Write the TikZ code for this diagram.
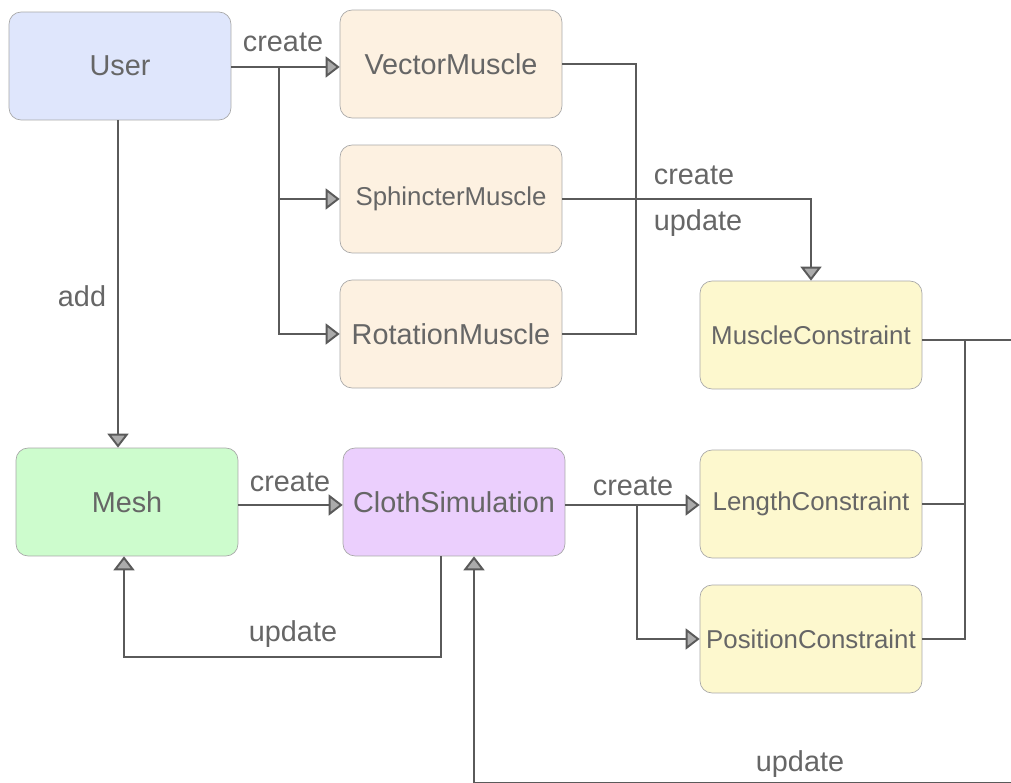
\documentclass[tikz,border=0pt]{standalone}
\usepackage{fontspec}
\setmainfont{Liberation Sans}
\usetikzlibrary{arrows.meta}

\definecolor{linegray}{HTML}{5A5A5A}
\definecolor{tipgray}{HTML}{ABABAB}
\definecolor{textgray}{HTML}{666666}
\definecolor{boxline}{HTML}{A8A8A8}
\definecolor{userfill}{HTML}{DFE6FC}
\definecolor{musclefill}{HTML}{FDF1E1}
\definecolor{meshfill}{HTML}{CDFCCD}
\definecolor{clothfill}{HTML}{EBCFFD}
\definecolor{constrfill}{HTML}{FDF8CE}

\begin{document}
\begin{tikzpicture}[x=0.02cm, y=-0.02cm,
  box/.style={draw=boxline, rounded corners=0.24cm, minimum width=4.44cm,
    minimum height=2.16cm, inner sep=0pt, text=textgray,
    font=\fontsize{16.4}{19}\selectfont},
  smallbox/.style={box, font=\fontsize{14.7}{17}\selectfont},
  link/.style={draw=linegray, line width=1.1pt},
  conn/.style={link, -{Triangle[fill=tipgray, length=0.28cm, width=0.42cm]}},
  lbl/.style={text=textgray, font=\fontsize{16.4}{19}\selectfont, inner sep=0pt}]
\useasboundingbox (0,0) rectangle (1011,783);

% boxes
\node[box, fill=userfill] (user) at (120,66) {User};
\node[box, fill=musclefill] (vector) at (451,64) {VectorMuscle};
\node[smallbox, fill=musclefill] (sphincter) at (451,199) {SphincterMuscle};
\node[box, fill=musclefill] (rotation) at (451,334) {RotationMuscle};
\node[smallbox, fill=constrfill] (mconstr) at (811,335) {MuscleConstraint};
\node[box, fill=meshfill] (mesh) at (127,502) {Mesh};
\node[box, fill=clothfill] (cloth) at (454,502) {ClothSimulation};
\node[smallbox, fill=constrfill] (lconstr) at (811,504) {LengthConstraint};
\node[smallbox, fill=constrfill] (pconstr) at (811,639) {PositionConstraint};

% junctions and off-page ends
\coordinate (j1) at (279,67);
\coordinate (j2) at (637,505);
\coordinate (j3) at (965,340);
\coordinate (redge) at (1011,340);
\coordinate (bedge) at (1011,783);
\coordinate (bturn) at (474,783);

% user creates muscles
\draw[conn] (user.east |- j1) -- (vector.west |- j1);
\draw[conn] (j1) |- (sphincter.west);
\draw[conn] (j1) |- (rotation.west);
\node[lbl] (lcreate1) at (283,42) {create};

% muscles create and update the muscle constraint
\draw[link] (vector.east) -- ++(74,0) |- (rotation.east);
\draw[conn] (sphincter.east) -| (mconstr.north);
\node[lbl] (lcreate2) at (694,175) {create};
\node[lbl] (lupdate1) at (698,223) {update};

% user adds the mesh
\draw[conn] ([xshift=-0.04cm]user.south) -- ([xshift=-0.04cm]user.south |- mesh.north);
\node[lbl] (ladd) at (82,296) {add};

% mesh and cloth simulation
\draw[conn] (mesh.east |- j2) -- (cloth.west |- j2);
\node[lbl] (lcreate3) at (290,482) {create};
\draw[conn] ([xshift=-0.26cm]cloth.south) -- ++(0,101) -| ([xshift=-0.06cm]mesh.south);
\node[lbl] (lupdate2) at (293,634) {update};

% cloth simulation creates constraints
\draw[conn] (cloth.east |- j2) -- (lconstr.west |- j2);
\draw[conn] (j2) |- (pconstr.west);
\node[lbl] (lcreate4) at (633,486) {create};

% constraints feed back into the simulation
\draw[link] (mconstr.east |- j3) -- (redge);
\draw[link] (lconstr.east) -- (lconstr.east -| j3);
\draw[link] (pconstr.east) -| (j3);
\draw[conn] (bedge) -- (bturn) -- ([xshift=0.4cm]cloth.south);
\node[lbl] (lupdate3) at (800,764) {update};
\end{tikzpicture}
\end{document}
